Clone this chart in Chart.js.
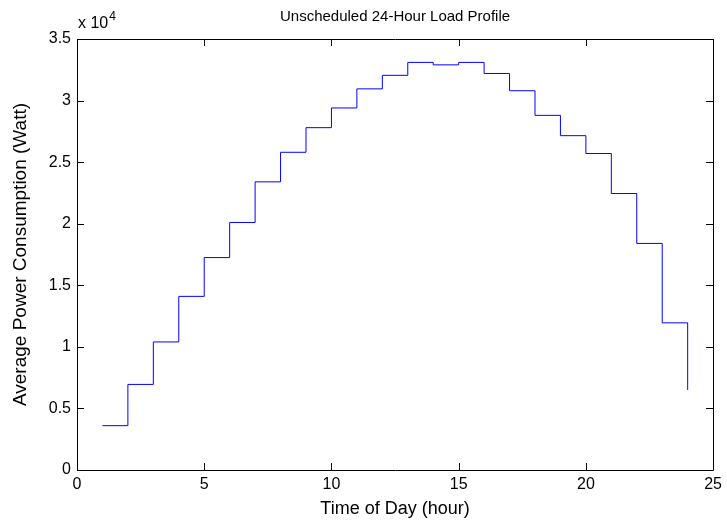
<!DOCTYPE html>
<html>
<head>
<meta charset="utf-8">
<script src="https://cdn.jsdelivr.net/npm/chart.js@4/dist/chart.umd.min.js"></script>
<style>
  html, body { margin: 0; padding: 0; background: #fff; }
  #wrap { width: 727px; height: 523px; }
</style>
</head>
<body>
<div id="wrap"><canvas id="c" width="727" height="523"></canvas></div>
<script>
// Hour of day at which each load level starts
const hours = [1, 2, 3, 4, 5, 6, 7, 8, 9, 10, 11, 12,
               13, 14, 15, 16, 17, 18, 19, 20, 21, 22, 23, 24];
// Average power consumption per hour (W)
const loadWatts = [3600, 6950, 10400, 14100, 17250, 20100, 23400, 25800,
                   27800, 29400, 30950, 32050, 33100, 32900, 33100, 32200,
                   30800, 28800, 27150, 25700, 22450, 18400, 11950, 6500];
const xTicks = [0, 5, 10, 15, 20, 25];
const yTicks = [0, 5000, 10000, 15000, 20000, 25000, 30000, 35000];
const chartTitle = 'Unscheduled 24-Hour Load Profile';

const FONT = "'Liberation Sans', Arial, Helvetica, sans-serif";

// Frame with inward tick marks on all four sides, the title and the exponent note
const framePlugin = {
  id: 'frame',
  afterDraw(chart) {
    const { ctx, chartArea: a, scales } = chart;
    const L = 7;
    ctx.save();
    ctx.strokeStyle = '#000';
    ctx.lineWidth = 1;
    ctx.beginPath();
    ctx.rect(Math.round(a.left) + 0.5, Math.round(a.top) + 0.5,
             Math.round(a.right - a.left), Math.round(a.bottom - a.top));
    ctx.stroke();
    ctx.beginPath();
    xTicks.forEach(v => {
      const x = Math.round(scales.x.getPixelForValue(v)) + 0.5;
      ctx.moveTo(x, a.bottom); ctx.lineTo(x, a.bottom - L);
      ctx.moveTo(x, a.top); ctx.lineTo(x, a.top + L);
    });
    yTicks.forEach(v => {
      const y = Math.round(scales.y.getPixelForValue(v)) + 0.5;
      ctx.moveTo(a.left, y); ctx.lineTo(a.left + L, y);
      ctx.moveTo(a.right, y); ctx.lineTo(a.right - L, y);
    });
    ctx.stroke();

    ctx.fillStyle = '#000';
    ctx.textBaseline = 'alphabetic';
    // title, centred over the plot area
    ctx.textAlign = 'center';
    ctx.font = '15px ' + FONT;
    ctx.fillText(chartTitle, (a.left + a.right) / 2, 21);
    // multiplier for the y tick labels
    ctx.textAlign = 'left';
    ctx.font = '16px ' + FONT;
    ctx.fillText('x 10', a.left + 1, 28);
    const w = ctx.measureText('x 10').width;
    ctx.font = '12px ' + FONT;
    ctx.fillText('4', a.left + 1 + w + 1, 20);
    ctx.restore();
  }
};

new Chart(document.getElementById('c'), {
  type: 'line',
  data: {
    datasets: [{
      data: hours.map((h, i) => ({ x: h, y: loadWatts[i] })),
      stepped: 'before',
      borderColor: '#0000ff',
      borderWidth: 1,
      pointRadius: 0,
      fill: false
    }]
  },
  options: {
    responsive: false,
    animation: false,
    devicePixelRatio: 1,
    layout: { padding: { top: 39, right: 11, left: 0, bottom: 0 } },
    plugins: {
      legend: { display: false },
      tooltip: { enabled: false },
      title: { display: false }
    },
    scales: {
      x: {
        type: 'linear',
        min: 0, max: 25,
        grid: { display: false, drawTicks: false },
        border: { display: false },
        ticks: {
          stepSize: 5, color: '#000', padding: 5,
          font: { family: FONT, size: 16 },
          maxRotation: 0
        },
        title: {
          display: true, text: 'Time of Day (hour)', color: '#000',
          font: { family: FONT, size: 18 },
          padding: { top: 0, bottom: 3 }
        },
        afterFit(s) { s.height = 53; }
      },
      y: {
        type: 'linear',
        min: 0, max: 35000,
        grid: { display: false, drawTicks: false },
        border: { display: false },
        ticks: {
          stepSize: 5000, color: '#000', padding: 6,
          font: { family: FONT, size: 16 },
          callback: v => String(v / 10000)
        },
        title: {
          display: true, text: 'Average Power Consumption (Watt)', color: '#000',
          font: { family: FONT, size: 19 },
          padding: { top: 9, bottom: 0 }
        },
        afterFit(s) { s.width = 77; }
      }
    }
  },
  plugins: [framePlugin]
});
</script>
</body>
</html>
